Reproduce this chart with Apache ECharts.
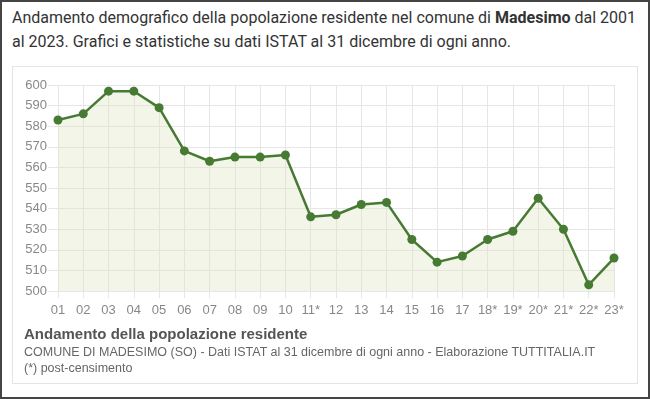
<!DOCTYPE html>
<html>
<head>
<meta charset="utf-8">
<script src="https://cdn.jsdelivr.net/npm/echarts@6/dist/echarts.min.js"></script>
<style>
  html, body { margin: 0; padding: 0; background: #fff; }
  #frame { position: relative; width: 646px; height: 395px; border: 2px solid #444; overflow: hidden; }
  #intro { position: absolute; left: 10px; top: 4px; width: 630px; font-family: Roboto, sans-serif; font-size: 16px; line-height: 24px; color: #333; }
  #panel { position: absolute; left: 10px; top: 64px; width: 624px; height: 316px; border: 1px solid #e4e4e4; }
  #chart { position: absolute; left: -2px; top: -2px; width: 650px; height: 399px; }
  #cap { position: absolute; left: 22px; top: 322px; font-family: "Liberation Sans", Arial, sans-serif; color: #666; }
  #cap b { display: block; font-size: 15px; color: #555; line-height: 20px; }
  #cap span { display: block; font-size: 12.5px; line-height: 16px; }
</style>
</head>
<body>
<div id="frame">
  <div id="intro">Andamento demografico della popolazione residente nel comune di <b>Madesimo</b> dal 2001 al 2023. Grafici e statistiche su dati ISTAT al 31 dicembre di ogni anno.</div>
  <div id="panel"></div>
  <div id="chart"></div>
  <div id="cap">
    <b>Andamento della popolazione residente</b>
    <span>COMUNE DI MADESIMO (SO) - Dati ISTAT al 31 dicembre di ogni anno - Elaborazione TUTTITALIA.IT</span>
    <span>(*) post-censimento</span>
  </div>
</div>
<script>
var years = ['01', '02', '03', '04', '05', '06', '07', '08', '09', '10', '11*', '12',
             '13', '14', '15', '16', '17', '18*', '19*', '20*', '21*', '22*', '23*'];
var population = [583, 586, 597, 597, 589, 568, 563, 565, 565, 566, 536, 537,
                  542, 543, 525, 514, 517, 525, 529, 545, 530, 503, 516];
var yMin = 500;
var yMax = 600;
var yStep = 10;

var dom = document.getElementById('chart');
var myChart = echarts.init(dom);

var option = {
    animation: false,
    grid: {
        left: 58,
        right: 36,
        top: 85,
        bottom: 108
    },
    xAxis: {
        type: 'category',
        data: years,
        boundaryGap: false,
        axisLine: { show: false },
        axisTick: { show: true, length: 7, lineStyle: { color: '#e6e6e6' } },
        axisLabel: { color: '#888', fontSize: 13, fontFamily: 'Liberation Sans', margin: 13, interval: 0 },
        splitLine: { show: true, lineStyle: { color: '#e6e6e6' } }
    },
    yAxis: {
        type: 'value',
        min: yMin,
        max: yMax,
        interval: yStep,
        axisLine: { show: false },
        axisTick: { show: true, length: 10, lineStyle: { color: '#e6e6e6' } },
        axisLabel: { color: '#888', fontSize: 13, fontFamily: 'Liberation Sans', margin: 11 },
        splitLine: { show: true, lineStyle: { color: '#e6e6e6' } }
    },
    series: [{
        type: 'line',
        data: population,
        symbol: 'circle',
        symbolSize: 9,
        itemStyle: { color: '#477a33' },
        lineStyle: { color: '#477a33', width: 2.5 },
        areaStyle: { color: 'rgba(220,227,192,0.5)' }
    }]
};

myChart.setOption(option);
</script>
</body>
</html>
